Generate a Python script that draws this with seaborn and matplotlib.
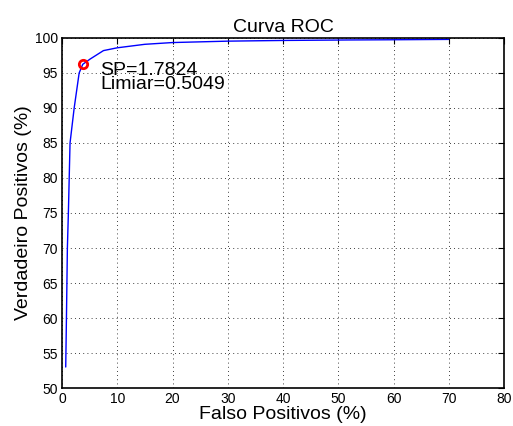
import matplotlib
matplotlib.use("Agg")
import matplotlib.pyplot as plt
import seaborn as sns
import pandas as pd

sns.set_style("white")
plt.rcParams['font.family'] = ['Liberation Sans', 'DejaVu Sans']
plt.rcParams['text.color'] = 'black'
plt.rcParams['axes.labelcolor'] = 'black'
plt.rcParams['xtick.color'] = 'black'
plt.rcParams['ytick.color'] = 'black'

fp = [0.67, 0.8, 0.97, 1.15, 1.45, 1.9, 2.2, 3.1, 3.75, 5.1, 7.5, 10, 15, 20, 30, 40, 52, 60, 70]
vp = [53, 60, 70, 75, 85, 88, 90, 95, 96.24, 97.0, 98.2, 98.6, 99.1, 99.35, 99.55, 99.65, 99.72, 99.75, 99.8]
best_fp = 3.75
best_vp = 96.24
sp_text = "SP=1.7824"
lim_text = "Limiar=0.5049"

df = pd.DataFrame({"fp": fp, "vp": vp})

fig = plt.figure(figsize=(5.13, 4.26), dpi=100)
ax = fig.add_axes([0.1209, 0.0892, 0.8616, 0.8216])
sns.lineplot(data=df, x="fp", y="vp", ax=ax, color="#0000ff", linewidth=1.0, sort=False)
ax.plot([best_fp], [best_vp], marker="o", markersize=6, markerfacecolor="none",
        markeredgecolor="red", markeredgewidth=2)
ax.text(6.9, 96.5, sp_text, fontsize=14, va="top", ha="left")
ax.text(6.9, 92.2, lim_text, fontsize=14, va="bottom", ha="left")

ax.set_xlim(0, 80)
ax.set_ylim(50, 100)
ax.set_xticks(range(0, 81, 10))
ax.set_yticks(range(50, 101, 5))
ax.grid(True, color="black", linestyle=(0, (1, 4)), linewidth=0.6)
ax.tick_params(direction="in", top=True, right=True, labelsize=10, length=4, width=0.8, pad=3)
for s in ax.spines.values():
    s.set_linewidth(1.2)
    s.set_color("black")
ax.set_xlabel("Falso Positivos (%)", fontsize=14, labelpad=0)
ax.set_ylabel("Verdadeiro Positivos (%)", fontsize=14, labelpad=2)
ax.set_title("Curva ROC", fontsize=14, pad=4)
fig.savefig("out.png", dpi=100)
